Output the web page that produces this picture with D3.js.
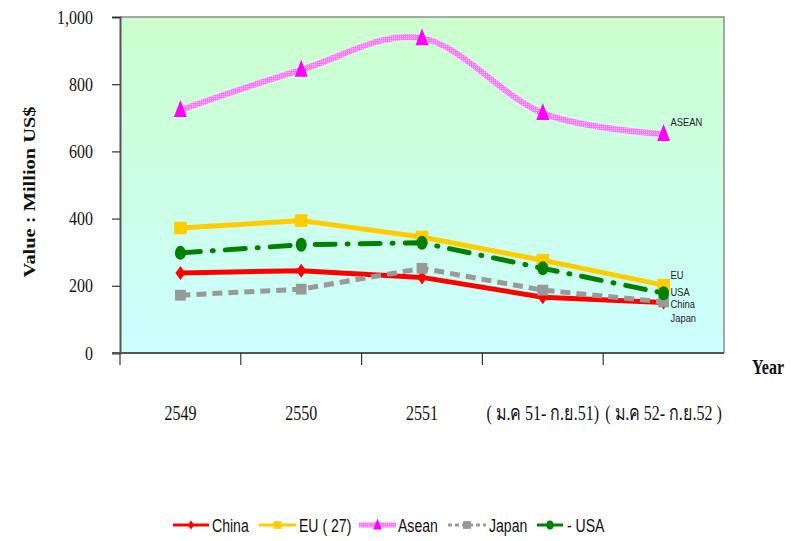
<!DOCTYPE html>
<html>
<head>
<meta charset="utf-8">
<script src="https://cdn.jsdelivr.net/npm/d3@7"></script>
<style>
  body { margin: 0; background: #fff; }
  svg { display: block; }
</style>
</head>
<body>
<div id="chart"></div>
<script>
const width = 794;
const height = 541;

// Data
const categories = ["2549", "2550", "2551", "( ม.ค 51- ก.ย.51)", "( ม.ค 52- ก.ย.52 )"];
const china = [238, 245, 225, 166, 150];
const eu = [372, 394, 345, 276, 202];
const asean = [723, 843, 937, 714, 652];
const japan = [172, 190, 252, 187, 152];
const usa = [298, 322, 328, 252, 178];
const yTicks = [0, 200, 400, 600, 800, 1000];

const series = [
    { name: "China", legend: "China", end: "China", values: china },
    { name: "EU", legend: "EU ( 27)", end: "EU", values: eu },
    { name: "Asean", legend: "Asean", end: "ASEAN", values: asean },
    { name: "Japan", legend: "Japan", end: "Japan", values: japan },
    { name: "USA", legend: "- USA", end: "USA", values: usa }
];

// Styles
const styles = {
    China: { color: "#ff0000", width: 5, dash: null, marker: "diamond" },
    EU: { color: "#ffcc00", width: 5, dash: null, marker: "square" },
    Asean: { color: "url(#pinkHatch)", fill: "#ff00ff", width: 6, dash: null, marker: "triangle", smooth: true },
    Japan: { color: "#999999", width: 5, dash: "10,6", marker: "square" },
    USA: { color: "#008000", width: 5, dash: "20,12,1,12", marker: "circle" }
};
const endOffsets = { China: 2, EU: -10, Asean: -12, Japan: 16, USA: -1 };

const margin = { left: 120, right: 70, top: 17, bottom: 188 };
const sansFont = "'Liberation Sans', Arial, sans-serif";
const serifFont = "'Liberation Serif', 'Times New Roman', serif";

const svg = d3.select("#chart").append("svg")
    .attr("width", width)
    .attr("height", height);

const defs = svg.append("defs");
const grad = defs.append("linearGradient")
    .attr("id", "bg").attr("x1", 0).attr("y1", 0).attr("x2", 0).attr("y2", 1);
grad.append("stop").attr("offset", "0%").attr("stop-color", "#ccffcc");
grad.append("stop").attr("offset", "100%").attr("stop-color", "#ccffff");

// speckled pink stroke for Asean
const pat = defs.append("pattern")
    .attr("id", "pinkHatch")
    .attr("width", 2).attr("height", 2)
    .attr("patternUnits", "userSpaceOnUse");
pat.append("rect").attr("width", 2).attr("height", 2).attr("fill", "#ff80ff");
pat.append("rect").attr("width", 1).attr("height", 1).attr("fill", "#ffb8ff");
pat.append("rect").attr("x", 1).attr("y", 1).attr("width", 1).attr("height", 1).attr("fill", "#ff66ff");

const x = d3.scaleBand()
    .domain(categories)
    .range([margin.left, width - margin.right]);

const y = d3.scaleLinear()
    .domain([0, 1000])
    .range([height - margin.bottom, margin.top]);

const x0 = x.range()[0], x1 = x.range()[1];
const yb = y(0), yt = y(1000);

// plot background
svg.append("rect")
    .attr("x", x0).attr("y", yt)
    .attr("width", x1 - x0).attr("height", yb - yt)
    .attr("fill", "url(#bg)");

// top & right border
svg.append("path")
    .attr("d", `M${x0},${yt}H${x1}V${yb}`)
    .attr("fill", "none")
    .attr("stroke", "#8c8c8c")
    .attr("stroke-width", 1.5);

// y axis
const yAxis = svg.append("g")
    .attr("transform", `translate(${x0},0)`)
    .call(d3.axisLeft(y).tickValues(yTicks).tickSize(8).tickPadding(19).tickFormat(d3.format(",")));
yAxis.select(".domain").attr("stroke", "#555").attr("stroke-width", 2);
yAxis.selectAll(".tick line").attr("stroke", "#333").attr("stroke-width", 1.2);
yAxis.selectAll(".tick text")
    .attr("font-family", serifFont)
    .attr("font-size", 19)
    .attr("fill", "#111")
    .attr("x", -27 / 0.84)
    .attr("transform", "scale(0.84,1)");

// x axis line and ticks at category boundaries
svg.append("line")
    .attr("x1", x0 - 8).attr("x2", x1)
    .attr("y1", yb).attr("y2", yb)
    .attr("stroke", "#555").attr("stroke-width", 2);

svg.selectAll(".xtick")
    .data(categories)
    .enter().append("line")
    .attr("class", "xtick")
    .attr("x1", d => x(d)).attr("x2", d => x(d))
    .attr("y1", yb).attr("y2", yb + 12)
    .attr("stroke", "#333").attr("stroke-width", 1.2);

svg.selectAll(".xlabel")
    .data(categories)
    .enter().append("text")
    .attr("class", "xlabel")
    .attr("transform", d => `translate(${x(d) + x.bandwidth() / 2},${yb + 67}) scale(0.8,1)`)
    .attr("text-anchor", "middle")
    .attr("font-family", serifFont)
    .attr("font-size", 20)
    .attr("fill", "#111")
    .text(d => d);

// axis titles
svg.append("text")
    .attr("transform", `translate(35,192) rotate(-90)`)
    .attr("text-anchor", "middle")
    .attr("font-family", serifFont)
    .attr("font-weight", "bold")
    .attr("font-size", 17)
    .attr("textLength", 171)
    .attr("lengthAdjust", "spacingAndGlyphs")
    .attr("fill", "#111")
    .text("Value : Million US$");

svg.append("text")
    .attr("transform", `translate(752,${yb + 21}) scale(0.8,1)`)
    .attr("font-family", serifFont)
    .attr("font-weight", "bold")
    .attr("font-size", 20)
    .attr("fill", "#111")
    .text("Year");

// marker helper
function drawMarker(g, type, color, s) {
    if (type === "diamond") {
        g.append("path").attr("d", `M0,${-7 * s}L${5 * s},0L0,${7 * s}L${-5 * s},0Z`).attr("fill", color);
    } else if (type === "square") {
        g.append("rect").attr("x", -6 * s).attr("y", -6 * s).attr("width", 12 * s).attr("height", 12 * s).attr("fill", color);
    } else if (type === "triangle") {
        g.append("path").attr("d", `M0,${-10 * s}L${6.5 * s},${7 * s}L${-6.5 * s},${7 * s}Z`).attr("fill", color);
    } else if (type === "circle") {
        g.append("ellipse").attr("rx", 5.5 * s).attr("ry", 7 * s).attr("fill", color);
    }
}

const markerColor = name => styles[name].fill || styles[name].color;
const markerScale = { China: 1, EU: 1.05, Asean: 1, Japan: 0.9, USA: 1 };

// lines
series.forEach(s => {
    const st = styles[s.name];
    const line = d3.line()
        .x((d, i) => x(categories[i]) + x.bandwidth() / 2)
        .y(d => y(d))
        .curve(st.smooth ? d3.curveCardinal.tension(0) : d3.curveLinear);

    const g = svg.append("g").attr("class", "series");
    g.append("path")
        .datum(s.values)
        .attr("d", line)
        .attr("fill", "none")
        .attr("stroke", st.color)
        .attr("stroke-width", st.width)
        .attr("stroke-dasharray", st.dash)
        .attr("stroke-linecap", s.name === "USA" ? "round" : "butt")
        .attr("stroke-linejoin", "round");

    g.selectAll(".pt")
        .data(s.values)
        .enter().append("g")
        .attr("transform", (d, i) => `translate(${x(categories[i]) + x.bandwidth() / 2},${y(d)})`)
        .each(function () { drawMarker(d3.select(this), st.marker, markerColor(s.name), markerScale[s.name]); });
});

// end labels
series.forEach(s => {
    const last = s.values[s.values.length - 1];
    svg.append("text")
        .attr("transform", `translate(${x(categories[categories.length - 1]) + x.bandwidth() / 2 + 7},${y(last) + endOffsets[s.name]}) scale(0.85,1)`)
        .attr("dy", "0.35em")
        .attr("font-family", sansFont)
        .attr("font-size", 11)
        .attr("fill", "#222")
        .text(s.end);
});

// legend
const legendY = 525;
const legendItems = [
    { name: "China", x1: 173, x2: 209, tx: 212 },
    { name: "EU", x1: 259, x2: 296, tx: 299 },
    { name: "Asean", x1: 359, x2: 396, tx: 398 },
    { name: "Japan", x1: 448, x2: 486, tx: 489 },
    { name: "USA", x1: 537, x2: 563, tx: 567 }
];
const legend = svg.append("g").attr("class", "legend");
legendItems.forEach((it, i) => {
    const st = styles[it.name];
    const s = series[i];
    legend.append("line")
        .attr("x1", it.x1).attr("x2", it.x2)
        .attr("y1", legendY).attr("y2", legendY)
        .attr("stroke", st.color)
        .attr("stroke-width", it.name === "Asean" ? 5 : 3)
        .attr("stroke-dasharray", it.name === "Japan" ? "4,3" : null);
    const mg = legend.append("g").attr("transform", `translate(${(it.x1 + it.x2) / 2},${legendY})`);
    drawMarker(mg, st.marker, markerColor(it.name), 0.65);
    legend.append("text")
        .attr("transform", `translate(${it.tx},${legendY}) scale(0.76,1)`)
        .attr("dy", "0.36em")
        .attr("font-family", sansFont)
        .attr("font-size", 18.5)
        .attr("fill", "#111")
        .text(s.legend);
});
</script>
</body>
</html>
